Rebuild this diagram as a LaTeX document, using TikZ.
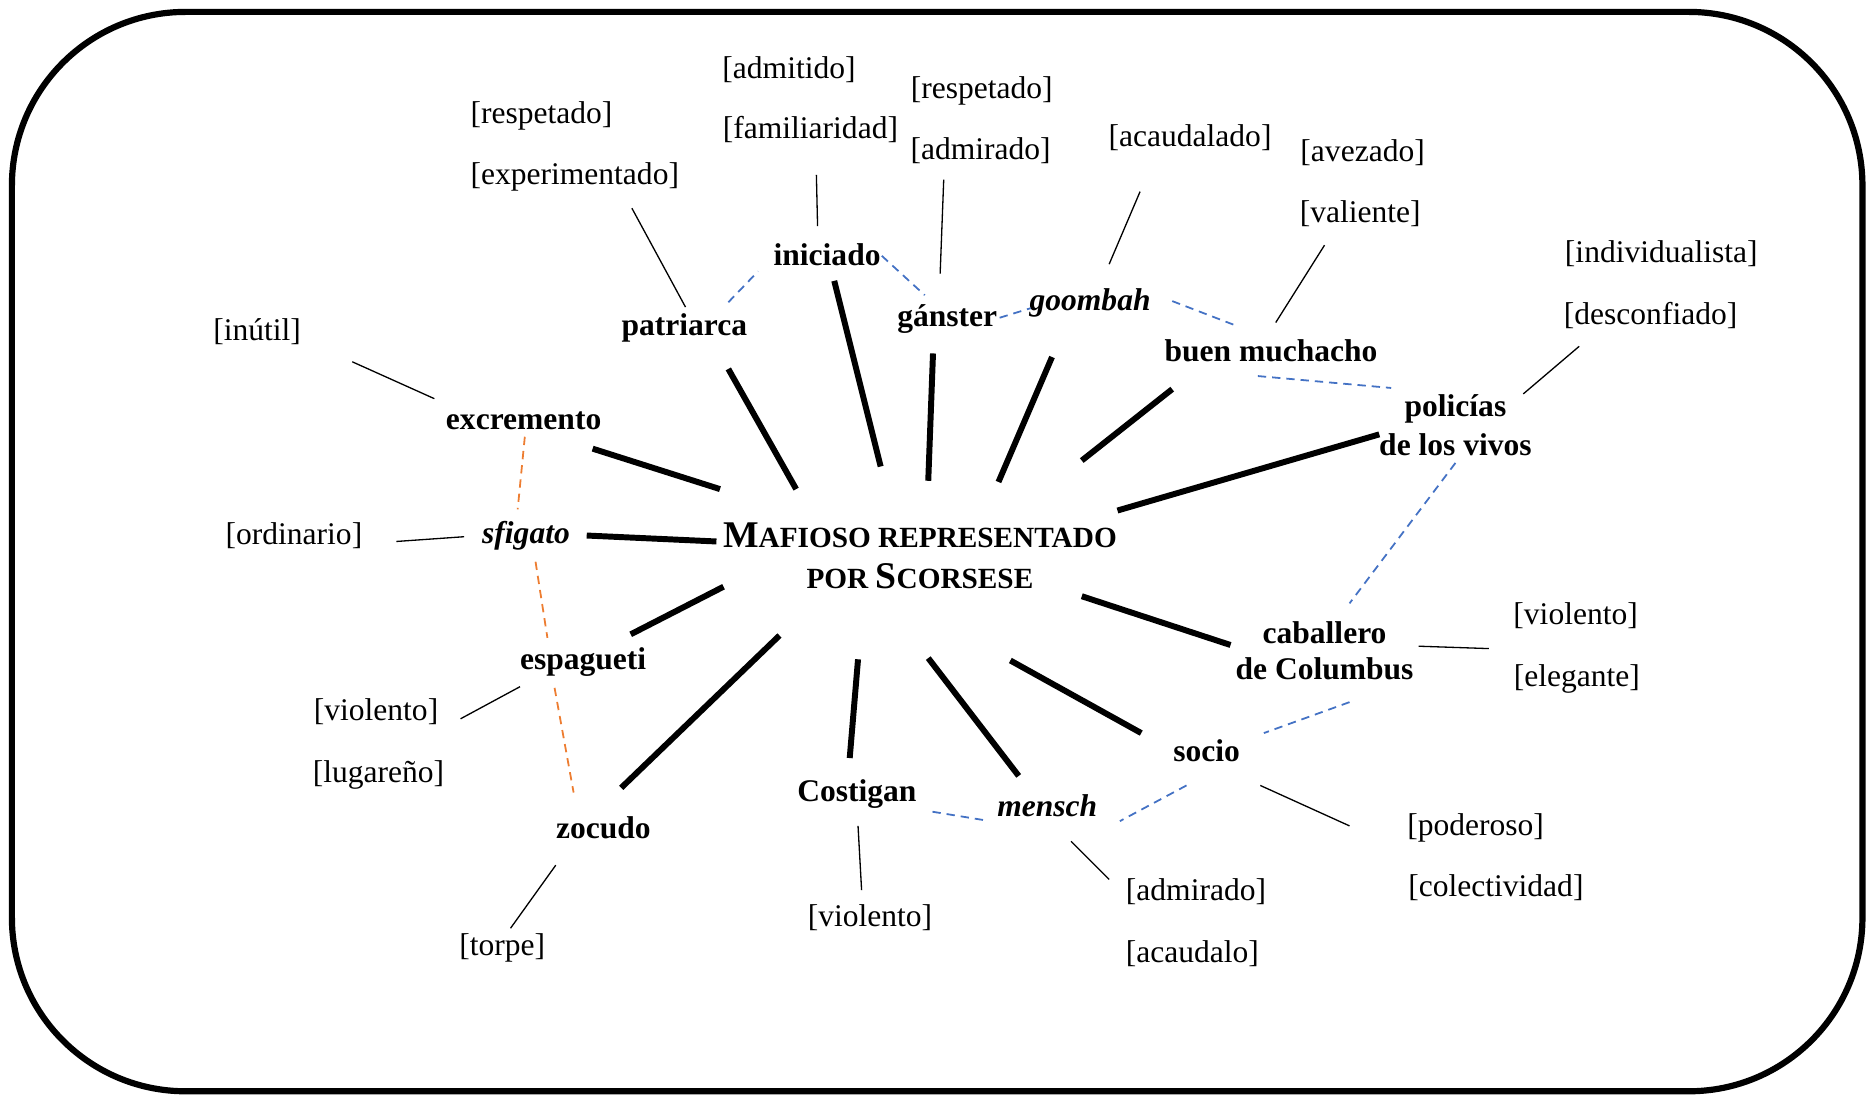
\documentclass[tikz,border=0pt]{standalone}
\usepackage{fontspec}
\setmainfont{Liberation Serif}
\usetikzlibrary{calc}

\definecolor{linkblue}{RGB}{68,114,196}
\definecolor{linkorange}{RGB}{237,125,49}

% reduced capitals for the central title
\newcommand\lowcaps[1]{{\fontsize{12.3}{14}\selectfont #1}}

\begin{document}
\begin{tikzpicture}[x=0.5pt,y=-0.5pt,
  term/.style={font=\fontsize{13.25}{15}\selectfont\bfseries, inner sep=0pt,
               text height=10.3pt, text depth=2.6pt},
  termit/.style={term, font=\fontsize{13.25}{15}\selectfont\bfseries\itshape},
  twoline/.style={font=\fontsize{13.25}{15}\selectfont\bfseries, inner sep=0pt, align=center},
  attr/.style={font=\fontsize{13.25}{15}\selectfont, inner sep=0pt,
               text height=10.3pt, text depth=2.6pt},
  spoke/.style={line width=2.5pt},
  feature/.style={line width=0.55pt},
  kin/.style={draw=linkblue, line width=0.75pt, dash pattern=on 3.5pt off 2.5pt},
  slur/.style={draw=linkorange, line width=0.75pt, dash pattern=on 3.5pt off 2.5pt},
]
\useasboundingbox (0,0) rectangle (1568,921);

% outer frame
\draw[line width=2.6pt, rounded corners=73pt] (10,10) rectangle (1565,917);

% central concept
\node[font=\fontsize{15.85}{17.5}\selectfont\bfseries, align=center, inner sep=0pt] (c) at (773,467)
  {M\lowcaps{AFIOSO REPRESENTADO}\\\lowcaps{POR }S\lowcaps{CORSESE}};

% terms
\node[term]   (ini)  at (695,215) {iniciado};
\node[term]   (pat)  at (575,274) {patriarca};
\node[term]   (gan)  at (796,267) {gánster};
\node[termit] (goo)  at (916,253) {goombah};
\node[term]   (buen) at (1068,296) {buen muchacho};
\node[twoline, font=\fontsize{13.25}{16.5}\selectfont\bfseries] (pol) at (1223,357) {policías\\de los vivos};
\node[term]   (exc)  at (440,353) {excremento};
\node[termit] (sfi)  at (442,449) {sfigato};
\node[term]   (esp)  at (490,555) {espagueti};
\node[term]   (zoc)  at (507,697) {zocudo};
\node[term]   (cos)  at (720,666) {Costigan};
\node[termit] (men)  at (880,678) {mensch};
\node[term]   (soc)  at (1014,632) {socio};
\node[twoline] (cab) at (1113,547) {caballero\\de Columbus};

% features
\node[attr] (iniA) at (663,58)  {[admitido]};
\node[attr] (iniB) at (681,109) {[familiaridad]};
\node[attr] (patA) at (455,96)  {[respetado]};
\node[attr] (patB) at (483,147) {[experimentado]};
\node[attr] (ganA) at (825,75)  {[respetado]};
\node[attr] (ganB) at (824,126) {[admirado]};
\node[attr] (gooA) at (1000,115) {[acaudalado]};
\node[attr] (buenA) at (1145,128) {[avezado]};
\node[attr] (buenB) at (1143,179) {[valiente]};
\node[attr] (polA) at (1396,213) {[individualista]};
\node[attr] (polB) at (1387,265) {[desconfiado]};
\node[attr] (excA) at (216,278) {[inútil]};
\node[attr] (sfiA) at (247,450) {[ordinario]};
\node[attr] (espA) at (316,598) {[violento]};
\node[attr] (espB) at (318,650) {[lugareño]};
\node[attr] (zocA) at (422,795) {[torpe]};
\node[attr] (cosA) at (731,771) {[violento]};
\node[attr] (menA) at (1005,749) {[admirado]};
\node[attr] (menB) at (1002,801) {[acaudalo]};
\node[attr] (socA) at (1240,694) {[poderoso]};
\node[attr] (socB) at (1257,746) {[colectividad]};
\node[attr] (cabA) at (1324,517) {[violento]};
\node[attr] (cabB) at (1325,569) {[elegante]};

% spokes to the central concept
\draw[spoke] ($(exc)+(58,24)$)   -- ($(c)+(-168,-56)$);
\draw[spoke] ($(pat)+(37,36)$)   -- ($(c)+(-104,-56)$);
\draw[spoke] ($(ini)+(6,21)$)    -- ($(c)+(-33,-75)$);
\draw[spoke] ($(gan)+(-12,30)$)  -- ($(c)+(7,-63)$);
\draw[spoke] ($(goo)+(-32,47)$)  -- ($(c)+(66,-62)$);
\draw[spoke] ($(buen)+(-83,31)$) -- ($(c)+(136,-80)$);
\draw[spoke] ($(pol)+(-64,8)$)   -- ($(c)+(166,-38)$);
\draw[spoke] ($(sfi)+(51,1)$)    -- ($(c)+(-171,-12)$);
\draw[spoke] ($(esp)+(40,-22)$)  -- ($(c)+(-165,26)$);
\draw[spoke] ($(zoc)+(15,-35)$)  -- ($(c)+(-118,67)$);
\draw[spoke] ($(cos)+(-6,-29)$)  -- ($(c)+(-52,87)$);
\draw[spoke] ($(men)+(-24,-26)$) -- ($(c)+(7,86)$);
\draw[spoke] ($(soc)+(-55,-16)$) -- ($(c)+(76,88)$);
\draw[spoke] ($(cab)+(-79,-5)$)  -- ($(c)+(136,34)$);

% feature links
\draw[feature] ($(iniB)+(5,38)$)    -- ($(ini)+(-8,-25)$);
\draw[feature] ($(patB)+(48,28)$)   -- ($(pat)+(1,-16)$);
\draw[feature] ($(ganB)+(-31,25)$)  -- ($(gan)+(-6,-37)$);
\draw[feature] ($(gooA)+(-42,46)$)  -- ($(goo)+(16,-31)$);
\draw[feature] ($(buenB)+(-30,27)$) -- ($(buen)+(4,-25)$);
\draw[feature] ($(polB)+(-60,26)$)  -- ($(pol)+(57,-26)$);
\draw[feature] ($(excA)+(80,26)$)   -- ($(exc)+(-75,-18)$);
\draw[feature] ($(sfiA)+(86,5)$)    -- ($(sfi)+(-52,2)$);
\draw[feature] ($(esp)+(-53,22)$)   -- ($(espA)+(71,6)$);
\draw[feature] ($(zoc)+(-40,30)$)   -- ($(zocA)+(7,-15)$);
\draw[feature] ($(cos)+(1,28)$)     -- ($(cosA)+(-7,-23)$);
\draw[feature] ($(men)+(20,29)$)    -- ($(menA)+(-73,-10)$);
\draw[feature] ($(soc)+(45,28)$)    -- ($(socA)+(-106,0)$);
\draw[feature] ($(cab)+(79,-4)$)    -- ($(cabA)+(-73,28)$);

% links between related terms
\draw[kin] ($(pat)+(37,-20)$)  -- ($(ini)+(-58,13)$);
\draw[kin] ($(ini)+(46,0)$)    -- ($(gan)+(-19,-19)$);
\draw[kin] ($(gan)+(44,0)$)    -- ($(goo)+(-50,6)$);
\draw[kin] ($(goo)+(69,0)$)    -- ($(buen)+(-31,-23)$);
\draw[kin] ($(buen)+(-11,20)$) -- ($(pol)+(-54,-31)$);
\draw[kin] ($(pol)+(0,32)$)    -- ($(cab)+(21,-40)$);
\draw[kin] ($(cab)+(21,43)$)   -- ($(soc)+(48,-16)$);
\draw[kin] ($(soc)+(-17,28)$)  -- ($(men)+(61,12)$);
\draw[kin] ($(men)+(-54,11)$)  -- ($(cos)+(63,16)$);

% links between derogatory terms
\draw[slur] ($(exc)+(1,14)$)   -- ($(sfi)+(-7,-21)$);
\draw[slur] ($(sfi)+(8,23)$)   -- ($(esp)+(-30,-19)$);
\draw[slur] ($(esp)+(-24,23)$) -- ($(zoc)+(-25,-31)$);
\end{tikzpicture}
\end{document}
